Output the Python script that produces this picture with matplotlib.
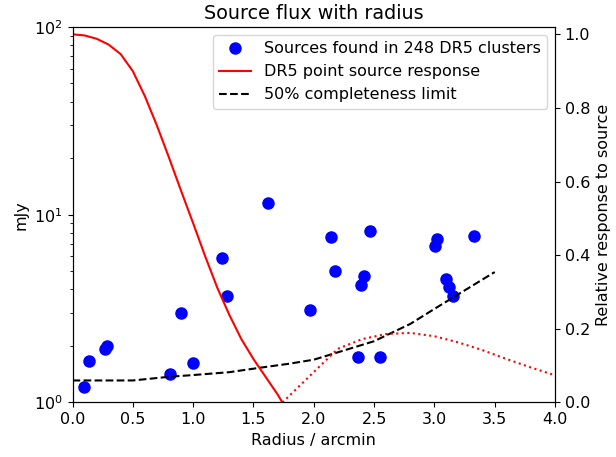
import matplotlib
matplotlib.use("Agg")
import matplotlib.pyplot as plt
from matplotlib.lines import Line2D

plt.rcParams['font.size'] = 11.5

# Source detections (radius in arcmin, flux in mJy)
src_radius = [0.095, 0.139, 0.269, 0.283, 0.808, 0.896, 1.0, 1.241, 1.283, 1.617,
              1.97, 2.147, 2.18, 2.368, 2.388, 2.415, 2.465, 2.548, 3.003, 3.023,
              3.094, 3.12, 3.155, 3.326]
src_flux = [1.21, 1.67, 1.92, 1.99, 1.41, 2.99, 1.62, 5.88, 3.67, 11.6,
            3.11, 7.57, 5.03, 1.75, 4.2, 4.73, 8.15, 1.75, 6.84, 7.42,
            4.56, 4.1, 3.70, 7.73]

# 50% completeness limit
lim_radius = [0.0, 0.5, 0.8, 1.0, 1.3, 1.55, 1.8, 2.0, 2.2, 2.5, 2.8, 3.0, 3.25, 3.5]
lim_flux = [1.31, 1.31, 1.37, 1.40, 1.45, 1.53, 1.61, 1.69, 1.85, 2.12, 2.62, 3.15, 3.95, 4.95]

# DR5 point source response (main lobe)
resp_radius = [0.0, 0.1, 0.2, 0.3, 0.4, 0.5, 0.6, 0.7, 0.8, 0.9, 1.0, 1.1, 1.2,
               1.3, 1.4, 1.5, 1.6, 1.7, 1.74]
resp_value = [1.0, 0.997, 0.988, 0.972, 0.946, 0.90, 0.832, 0.752, 0.665, 0.575,
              0.487, 0.397, 0.312, 0.238, 0.172, 0.118, 0.070, 0.022, 0.0]

# Sidelobe (absolute response)
side_radius = [1.74, 2.2, 2.4, 2.6, 2.8, 3.0, 3.2, 3.4, 3.6, 3.8, 4.0]
side_value = [0.0, 0.146, 0.172, 0.186, 0.189, 0.180, 0.163, 0.142, 0.118, 0.095, 0.074]

fig = plt.figure(figsize=(6.16, 4.57), dpi=100)
ax1 = fig.add_axes([0.1177, 0.1193, 0.7833, 0.8217])
ax1.plot(src_radius, src_flux, 'o', color='blue', markersize=8)
ax1.plot(lim_radius, lim_flux, '--', color='black', linewidth=1.5)
ax1.set_yscale('log')
ax1.set_ylim(1, 100)
ax1.set_xlim(0, 4.0)
ax1.set_xlabel('Radius / arcmin')
ax1.set_ylabel('mJy')
ax1.set_title('Source flux with radius')

ax2 = ax1.twinx()
ax2.plot(resp_radius, resp_value, '-', color='red', linewidth=1.5)
ax2.plot(side_radius, side_value, ':', color='red', linewidth=1.5)
ax2.set_ylim(0, 1.02)
ax2.set_ylabel('Relative response to source')

handles = [
    Line2D([], [], marker='o', linestyle='none', color='blue', markersize=8),
    Line2D([], [], color='red', linewidth=1.5),
    Line2D([], [], color='black', linestyle='--', linewidth=1.5),
]
labels = ['Sources found in 248 DR5 clusters', 'DR5 point source response',
          '50% completeness limit']
ax2.legend(handles, labels, loc='upper right')

fig.savefig('out.png', dpi=100)
